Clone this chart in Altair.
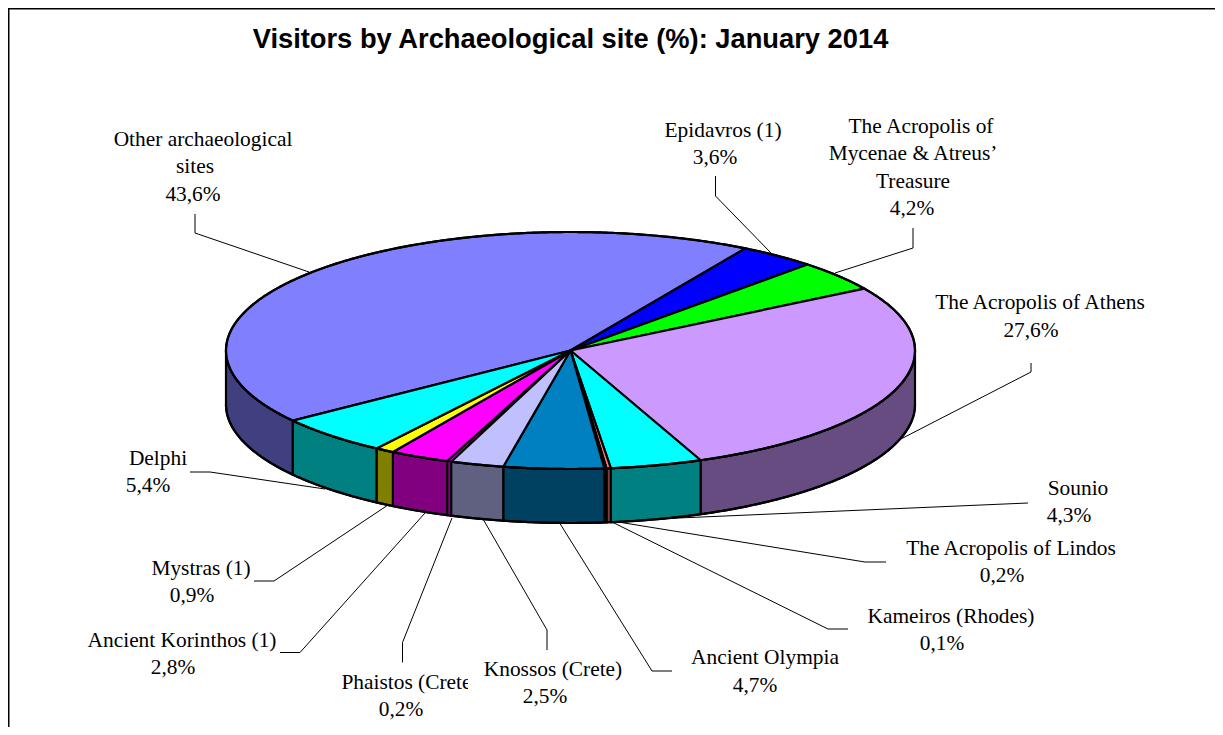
import numpy as np
import pandas as pd
import altair as alt

sites = ["Other archaeological sites", "Epidavros (1)", "The Acropolis of Mycenae & Atreus' Treasure",
         "The Acropolis of Athens", "Sounio", "The Acropolis of Lindos", "Kameiros (Rhodes)",
         "Ancient Olympia", "Knossos (Crete)", "Phaistos (Crete)", "Ancient Korinthos (1)",
         "Mystras (1)", "Delphi"]
values = [43.6, 3.6, 4.2, 27.6, 4.3, 0.2, 0.1, 4.7, 2.5, 0.2, 2.8, 0.9, 5.4]
top_colors = ["#8080FF", "#0000FF", "#00FF00", "#CC99FF", "#00FFFF", "#FF8080", "#000000",
              "#0080C0", "#C0C0FF", "#FF00FF", "#FF00FF", "#FFFF00", "#00FFFF"]
side_colors = ["#404080", "#000080", "#008000", "#664C80", "#008080", "#804040", "#000000",
               "#004060", "#606080", "#800080", "#800080", "#808000", "#008080"]

W, H = 1207, 719
CX, CY, RX, RY, DEPTH = 570.5, 350.5, 344.5, 118.5, 54.0
START_DEG = -126.3  # where the first slice begins, clockwise from the back of the pie
HIDDEN_EDGE = 9     # this sliver takes its neighbour's colour, so its edges stay unseen

# label lines: site index, line text, centre x, centre y
pct = [f"{v:.1f}".replace(".", ",") + "%" for v in values]
label_lines = [
    (0, "Other archaeological", 203, 140), (0, "sites", 195, 167), (0, pct[0], 193, 195),
    (1, "Epidavros (1)", 723, 131), (1, pct[1], 715, 158),
    (2, "The Acropolis of", 921, 127), (2, "Mycenae & Atreus\u2019", 913, 154), (2, "Treasure", 913, 182), (2, pct[2], 912, 209),
    (3, "The Acropolis of Athens", 1040, 303), (3, pct[3], 1031, 331),
    (4, "Sounio", 1078, 489), (4, pct[4], 1069, 516),
    (5, "The Acropolis of Lindos", 1011, 549), (5, pct[5], 1002, 576),
    (6, "Kameiros (Rhodes)", 951, 617), (6, pct[6], 942, 644),
    (7, "Ancient Olympia", 765, 658), (7, pct[7], 755, 686),
    (9, "Phaistos (Crete)", 410, 683), (9, pct[9], 401, 710),
    (8, "Knossos (Crete)", 553, 670), (8, pct[8], 545, 697),
    (10, "Ancient Korinthos (1)", 182, 641), (10, pct[10], 173, 668),
    (11, "Mystras (1)", 201, 569), (11, pct[11], 192, 596),
    (12, "Delphi", 158, 459), (12, pct[12], 148, 486),
]

# leader lines, page pixels
leaders = [
    [(195, 214), (195, 233), (309, 272)],
    [(715.5, 176), (715.5, 196), (772, 254)],
    [(913, 228), (913, 248), (835, 273)],
    [(1031, 363), (1031, 372), (897, 441)],
    [(1028, 503), (655, 519)],
    [(886, 562), (865, 562), (612, 521)],
    [(848, 629), (828, 629), (610, 521)],
    [(672, 671), (652, 671), (559, 522)],
    [(547, 650), (547, 630), (483, 519)],
    [(402.5, 662.5), (402.5, 642.5), (452, 518)],
    [(280, 652.5), (300, 652.5), (425, 513)],
    [(254, 581), (274, 581), (388, 505)],
    [(190, 472), (210, 472), (325, 489)],
]

x_scale = alt.Scale(domain=[8, 8 + W], range=[0, W], nice=False, zero=False)
y_scale = alt.Scale(domain=[8, 8 + H], range=[0, H], nice=False, zero=False)
X = lambda f="x": alt.X(f"{f}:Q", scale=x_scale, axis=None)
Y = lambda f="y": alt.Y(f"{f}:Q", scale=y_scale, axis=None)

def pt(deg, dy=0.0):
    t = np.radians(deg)
    return CX + RX * np.sin(t), CY - RY * np.cos(t) + dy

tops, sides = {}, {}
a = START_DEG
total = sum(values)
for k, v in enumerate(values):
    b = a + 360 * v / total
    angs = np.linspace(a, b, max(3, int((b - a) * 2)))
    ring = [(CX, CY)] + [pt(t) for t in angs] + [(CX, CY)]
    sc_top = top_colors[k] if k == HIDDEN_EDGE else "#000000"
    tops[k] = [dict(s=k, i=i, x=x, y=y, c=top_colors[k], sc=sc_top) for i, (x, y) in enumerate(ring)]
    # visible part of the rim is the front half of the pie (90..270 degrees)
    for lo, hi in [(a, b), (a + 360, b + 360), (a - 360, b - 360)]:
        l, h = max(lo, 90), min(hi, 270)
        if h > l:
            arc = np.linspace(l, h, max(3, int((h - l) * 2)))
            poly = [pt(t) for t in arc] + [pt(t, DEPTH) for t in arc[::-1]]
            poly.append(poly[0])
            sc_side = side_colors[k] if k == HIDDEN_EDGE else "#000000"
            sides[k] = [dict(s=k, i=i, x=x, y=y, c=side_colors[k], sc=sc_side) for i, (x, y) in enumerate(poly)]
    a = b

def shape_layer(parts, sw):
    # the sliver goes first so that its neighbours' black edges are drawn over it
    keys = [HIDDEN_EDGE] + [k for k in parts if k != HIDDEN_EDGE]
    rows = [r for k in keys if k in parts for r in parts[k]]
    return alt.Chart(pd.DataFrame(rows)).mark_line(strokeWidth=sw, strokeJoin="round", interpolate="linear").encode(
        x=X(), y=Y(), detail="s:N", order="i:Q",
        fill=alt.Fill("c:N", scale=None), stroke=alt.Stroke("sc:N", scale=None))

rim_rows = []
for i, t in enumerate(np.linspace(0, 360, 721)):
    x, y = pt(t)
    rim_rows.append(dict(s=0, i=i, x=x, y=y))
for i, t in enumerate(np.linspace(90, 270, 361)):
    x, y = pt(t, DEPTH)
    rim_rows.append(dict(s=1, i=i, x=x, y=y))
rim_layer = alt.Chart(pd.DataFrame(rim_rows)).mark_line(color="#000000", strokeWidth=2.2).encode(
    x=X(), y=Y(), detail="s:N", order="i:Q")

lead_rows = [dict(s=k, i=i, x=p[0], y=p[1]) for k, line in enumerate(leaders) for i, p in enumerate(line)]
lead_layer = alt.Chart(pd.DataFrame(lead_rows)).mark_line(color="#000000", strokeWidth=1).encode(
    x=X(), y=Y(), detail="s:N", order="i:Q")

frame = pd.DataFrame([dict(s=0, i=0, x=8.75, y=8 + H), dict(s=0, i=1, x=8.75, y=8.75), dict(s=0, i=2, x=8 + W, y=8.75)])
frame_layer = alt.Chart(frame).mark_line(color="#000000", strokeWidth=1.5).encode(x=X(), y=Y(), order="i:Q")

def text_layer(rows):
    return alt.Chart(pd.DataFrame(rows, columns=["s", "t", "x", "y"])).mark_text(
        font="Liberation Serif", fontSize=21.4, color="#000000", baseline="middle", align="center"
    ).encode(x=X(), y=Y(), text="t:N")

first = [r for r in label_lines if r[0] == 9]
rest = [r for r in label_lines if r[0] != 9]
mask = alt.Chart(pd.DataFrame([dict(x=468, x2=484, y=671, y2=695)])).mark_rect(color="#FFFFFF").encode(
    x=X(), x2="x2:Q", y=Y(), y2="y2:Q")

title = alt.Chart(pd.DataFrame([dict(t="Visitors by Archaeological site (%): January 2014", x=570.5, y=40)])).mark_text(
    font="Liberation Sans", fontSize=27.3, fontWeight="bold", color="#000000", baseline="middle", align="center"
).encode(x=X(), y=Y(), text="t:N")

chart = alt.layer(frame_layer, lead_layer, shape_layer(sides, 2.2), shape_layer(tops, 2.2), rim_layer,
                  text_layer(first), mask, text_layer(rest), title).properties(
    width=W, height=H, padding=0, background="#FFFFFF", autosize=alt.AutoSizeParams(type="none")
).configure_view(stroke=None)

chart.save("out.html", embed_options={"renderer": "svg", "actions": False})
